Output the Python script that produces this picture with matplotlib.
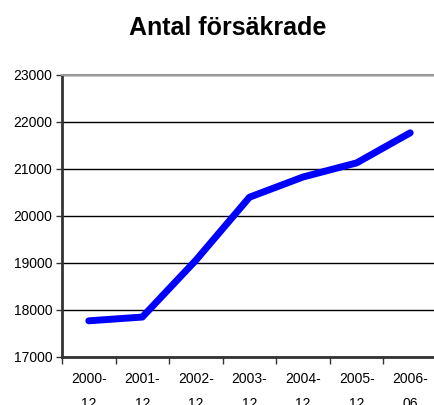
import matplotlib
matplotlib.use("Agg")
import matplotlib.pyplot as plt
import numpy as np

plt.rcParams['font.family'] = ['Liberation Sans', 'DejaVu Sans']

kategorier = ["2000-\n12", "2001-\n12", "2002-\n12", "2003-\n12", "2004-\n12", "2005-\n12", "2006-\n06"]
antal = [17770, 17850, 19060, 20400, 20830, 21130, 21770]

fig = plt.figure(figsize=(4.35, 4.05), dpi=100)
ax = fig.add_axes([62/435, 1 - 357/405, 375/435, 282/405])

x = np.arange(len(kategorier))
ax.plot(x, antal, color="#0000ff", linewidth=5, solid_capstyle="round", solid_joinstyle="round")

ax.set_xlim(-0.5, len(kategorier) - 0.5)
ax.set_ylim(17000, 23000)
ax.set_yticks(range(17000, 23001, 1000))
ax.yaxis.grid(True, color="black", linewidth=1)
ax.set_axisbelow(True)

ax.set_xticks(x)
ax.set_xticklabels(kategorier, fontsize=10, linespacing=1.95)
ax.set_xticks(np.arange(-0.5, len(kategorier), 1), minor=True)
ax.tick_params(axis="x", which="major", length=0, pad=11)
ax.tick_params(axis="x", which="minor", length=5, width=1, color="#333333")
ax.tick_params(axis="y", length=4, width=1, labelsize=10, color="#333333", pad=3)

ax.spines["right"].set_visible(False)
ax.spines["top"].set_color("#999999")
ax.spines["top"].set_linewidth(1.5)
ax.spines["left"].set_color("#333333")
ax.spines["left"].set_linewidth(2)
ax.spines["bottom"].set_color("#333333")
ax.spines["bottom"].set_linewidth(2)

fig.text(228/435, 1 - 28/405, "Antal försäkrade", ha="center", va="center",
         fontsize=18, fontweight="bold")

fig.savefig("out.png", dpi=100)
